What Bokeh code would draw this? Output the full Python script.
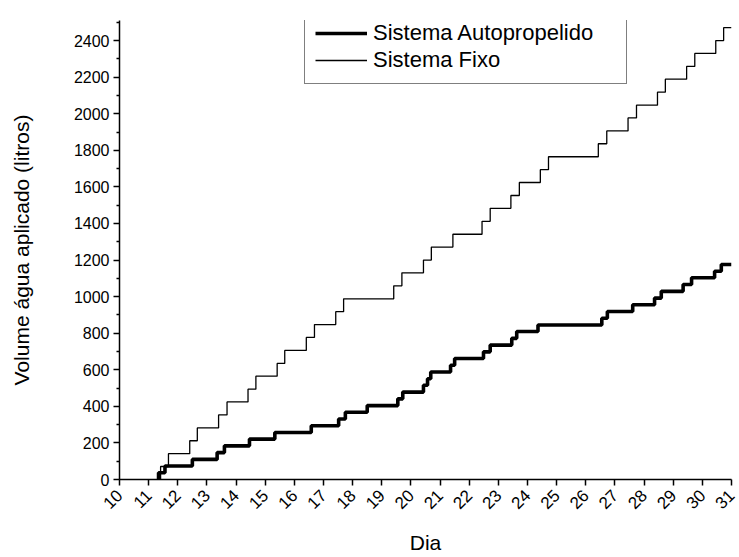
from bokeh.plotting import figure
from bokeh.models import Range1d, FixedTicker, Legend, LegendItem
from bokeh.embed import file_html
from bokeh.resources import INLINE
import math

# Sistema Autopropelido: day of each application and cumulative volume (litros)
auto_days = [11.34, 11.56, 12.50, 13.35, 13.60, 14.46, 15.33, 16.58, 17.52, 17.75,
             18.50, 19.55, 19.72, 20.43, 20.57, 20.68, 21.36, 21.50, 22.49, 22.72,
             23.46, 23.63, 24.36, 26.55, 26.74, 27.61, 28.36, 28.59, 29.34, 29.63,
             30.42, 30.65]
auto_vol = [37, 74, 110, 147, 184, 221, 257, 294, 331, 368,
            404, 441, 478, 515, 551, 588, 625, 662, 698, 735,
            772, 809, 845, 882, 919, 956, 992, 1029, 1066, 1103,
            1139, 1176]

# Sistema Fixo
fixo_days = [11.41, 11.68, 12.41, 12.67, 13.40, 13.69, 14.41, 14.68, 15.41, 15.67,
             16.41, 16.69, 17.42, 17.69, 19.41, 19.69, 20.43, 20.70, 21.44, 22.44,
             22.72, 23.43, 23.72, 24.44, 24.72, 26.43, 26.72, 27.45, 27.74, 28.46,
             28.73, 29.46, 29.74, 30.46, 30.73]
fixo_vol = [71, 141, 212, 282, 353, 424, 494, 565, 635, 706,
            777, 847, 918, 988, 1059, 1130, 1200, 1271, 1341, 1412,
            1483, 1553, 1624, 1694, 1765, 1836, 1906, 1977, 2047, 2118,
            2189, 2259, 2330, 2400, 2471]

x_ticks = [10, 11, 12, 13, 14, 15, 16, 17, 18, 19, 20, 21, 22, 23, 24, 25, 26, 27, 28, 29, 30, 31]
y_ticks = [0, 200, 400, 600, 800, 1000, 1200, 1400, 1600, 1800, 2000, 2200, 2400]
y_minor = [100, 300, 500, 700, 900, 1100, 1300, 1500, 1700, 1900, 2100, 2300, 2500]

X_START, X_END = 10, 31
Y_START, Y_END = 0, 2510

FONT = "Liberation Sans"

p = figure(width=739, height=557, x_range=Range1d(X_START, X_END), y_range=Range1d(Y_START, Y_END),
           output_backend="svg", toolbar_location=None,
           min_border_left=119, min_border_right=8, min_border_top=20, min_border_bottom=77)
p.grid.visible = False
p.outline_line_color = None
p.background_fill_color = "white"
p.border_fill_color = "white"

def step_xy(days, vols):
    xs = [days[0]] + list(days) + [X_END]
    ys = [0] + list(vols) + [vols[-1]]
    return xs, ys

ax, ay = step_xy(auto_days, auto_vol)
fx, fy = step_xy(fixo_days, fixo_vol)
r_fixo = p.step(fx, fy, mode="after", line_color="black", line_width=1.3)
r_auto = p.step(ax, ay, mode="after", line_color="black", line_width=3.6)

p.xaxis.ticker = FixedTicker(ticks=x_ticks)
p.xaxis.major_label_overrides = {t: str(t) for t in x_ticks}
p.xaxis.major_label_orientation = math.pi / 4
p.yaxis.ticker = FixedTicker(ticks=y_ticks, minor_ticks=y_minor)

for axis in (p.xaxis, p.yaxis):
    axis.axis_line_color = "black"
    axis.axis_line_width = 1.5
    axis.major_tick_line_color = "black"
    axis.major_tick_line_width = 1.5
    axis.minor_tick_line_color = "black"
    axis.minor_tick_line_width = 1.5
    axis.major_tick_out = 6
    axis.major_tick_in = 0
    axis.minor_tick_out = 3
    axis.minor_tick_in = 0
    axis.major_label_text_font = FONT
    axis.major_label_text_font_size = "16px"
    axis.major_label_text_color = "black"
    axis.axis_label_text_font = FONT
    axis.axis_label_text_font_size = "21px"
    axis.axis_label_text_font_style = "normal"
    axis.axis_label_text_color = "black"

p.xaxis.minor_tick_out = 0
p.xaxis.major_label_text_font_size = "17px"
p.xaxis.axis_label = "Dia"
p.yaxis.axis_label = "Volume água aplicado (litros)"
p.xaxis.major_label_standoff = 7
p.yaxis.major_label_standoff = 4
p.xaxis.axis_label_standoff = 14
p.yaxis.axis_label_standoff = 38

legend = Legend(items=[LegendItem(label="Sistema Autopropelido", renderers=[r_auto]),
                       LegendItem(label="Sistema Fixo", renderers=[r_fixo])],
                location=(185, 395))
legend.label_text_font = FONT
legend.label_text_font_size = "22px"
legend.label_text_color = "black"
legend.border_line_color = "black"
legend.border_line_width = 1
legend.background_fill_color = "white"
legend.padding = 10
legend.spacing = 1
legend.margin = 0
legend.glyph_width = 52
legend.glyph_height = 22
legend.label_height = 22
legend.label_standoff = 6
legend.label_width = 243
p.add_layout(legend)

open("out.html", "w").write(file_html(p, INLINE))
